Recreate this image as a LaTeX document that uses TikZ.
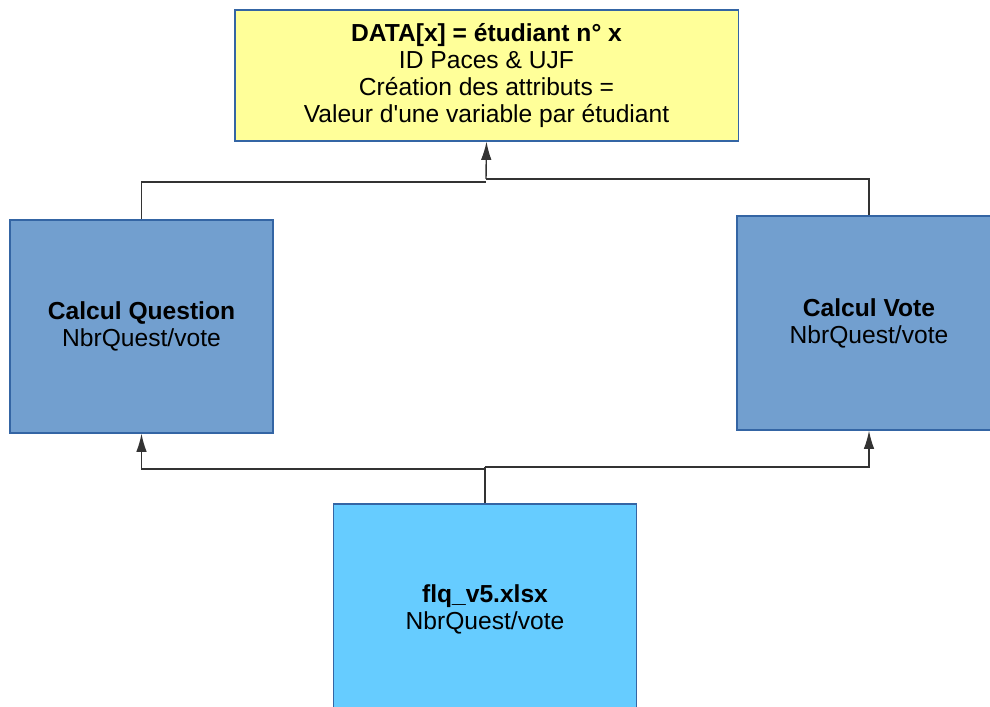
\documentclass[tikz,border=0pt]{standalone}
\usepackage{fontspec}
\setmainfont{Liberation Sans}
\usetikzlibrary{arrows.meta}
\definecolor{myyellow}{HTML}{FFFF99}
\definecolor{myblue}{HTML}{729FCF}
\definecolor{mysky}{HTML}{66CCFF}
\definecolor{myedge}{HTML}{3465A4}
\tikzset{
  box/.style={draw=myedge, line width=0.8pt, align=center, inner sep=0pt,
    font=\fontsize{17.5}{19.3}\selectfont},
  link/.style={draw=black!80, line width=1pt},
  arr/.style={link, -{Latex[length=13pt, width=7.5pt]}}
}

\begin{document}
\begin{tikzpicture}[x=0.025cm, y=-0.025cm]
    \useasboundingbox (0,0) rectangle (990,707);
    \clip (0,0) rectangle (990,707);

    \node[box, fill=myyellow, minimum width=12.575cm, minimum height=3.275cm] (data) at (486.5,75.5)
      {\textbf{DATA[x] = étudiant n° x}\\ID Paces \& UJF\\Création des attributs =\\Valeur d\textquotesingle une variable par étudiant};
    \node[box, fill=myblue, minimum width=6.575cm, minimum height=5.325cm] (question) at (141.5,326.5)
      {\textbf{Calcul Question}\\NbrQuest/vote};
    \node[box, fill=myblue, minimum width=6.6cm, minimum height=5.35cm] (vote) at (869,323)
      {\textbf{Calcul Vote}\\NbrQuest/vote};
    \node[box, fill=mysky, minimum width=7.575cm, minimum height=5.25cm] (xlsx) at (485,609)
      {\textbf{flq\_v5.xlsx}\\NbrQuest/vote};

    \coordinate (topL) at (486,182);
    \coordinate (topR) at (486,179);
    \coordinate (botL) at (485,469);
    \coordinate (botR) at (485,467);

    \draw[link] (question.north) |- (topL);
    \draw[link] (vote.north) |- (topR);
    \draw[arr] (topR) -- (data.south);

    \draw[link] (xlsx.north) -- (botR);
    \draw[arr] (botL) -| (question.south);
    \draw[arr] (botR) -| (vote.south);
\end{tikzpicture}
\end{document}
